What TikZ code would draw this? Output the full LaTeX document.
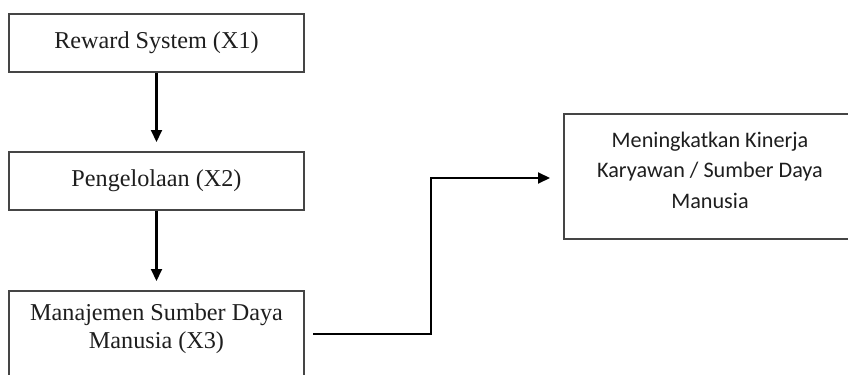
\documentclass[tikz,border=0pt]{standalone}
\usepackage{fontspec}
\setmainfont{Liberation Serif}
\newfontfamily\calfont{Carlito}
\usetikzlibrary{arrows.meta}
\definecolor{boxgray}{HTML}{454545}
\definecolor{txtgray}{HTML}{1E1E1E}
\tikzset{
  box/.style={draw=boxgray, line width=1pt, rectangle, inner sep=0pt, minimum width=147.5pt},
  lbl/.style={text=txtgray, align=center, inner sep=0pt, font=\fontsize{12.1}{14}\selectfont},
  cal/.style={text=txtgray, align=center, inner sep=0pt, font=\calfont\fontsize{11.1}{15.2}\selectfont},
  arr/.style={draw=black, line width=1.05pt, -{Triangle[length=6pt,width=5.5pt]}},
}
\begin{document}
\begin{tikzpicture}[x=0.5pt,y=-0.5pt]
\useasboundingbox (0,0) rectangle (848,375);
\clip (0,0) rectangle (848,375);
\fill[white] (0,0) rectangle (848,375);
\node[box, minimum height=29pt] (b1) at (156.5,43) {};
\node[lbl] (t1) at (156.5,43) {Reward System (X1)};
\node[box, minimum height=29pt] (b2) at (156.5,181) {};
\node[lbl] (t2) at (156.5,181) {Pengelolaan (X2)};
\node[box, minimum height=43pt] (b3) at (156.5,334) {};
\node[lbl] (t3) at (156.5,329) {Manajemen Sumber Daya\\Manusia (X3)};
\node[box, minimum width=146pt, minimum height=62.5pt] (b4) at (710,176.5) {};
\node[cal] (t4) at (710,170) {Meningkatkan Kinerja\\Karyawan / Sumber Daya\\Manusia};
\draw[arr] (b1.south) -- ([yshift=4.5pt]b2.north);
\draw[arr] (b2.south) -- ([yshift=4.5pt]b3.north);
\coordinate (s) at ([xshift=4pt]b3.east);
\coordinate (e) at (431,178);
\coordinate (t) at (550,178);
\draw[arr] (s) -| (e) -- (t);
\end{tikzpicture}
\end{document}
